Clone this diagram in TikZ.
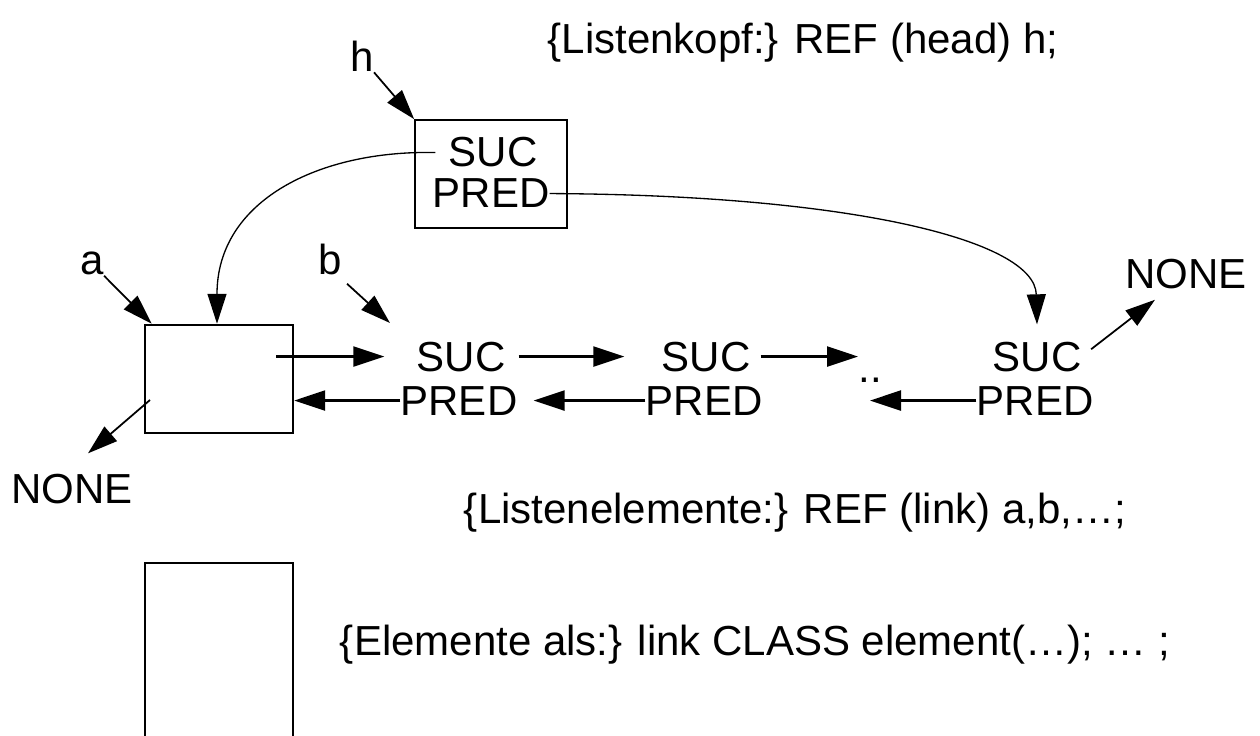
\documentclass[tikz,border=0pt]{standalone}
\usepackage{fontspec}
\setmainfont{Liberation Sans}
\usetikzlibrary{arrows.meta, calc, positioning}

\begin{document}
\begin{tikzpicture}[x=0.02cm, y=-0.02cm, inner sep=0pt, font=\fontsize{23.9}{28}\selectfont,
    word/.style={anchor=base},
    ptr/.style={-{Triangle[length=0.62cm, width=0.4cm]}, line width=1.4pt},
    thinptr/.style={-{Triangle[length=0.6cm, width=0.38cm]}, line width=1pt},
    curveptr/.style={-{Triangle[length=0.6cm, width=0.38cm]}, line width=0.75pt}]
    \useasboundingbox (0,0) rectangle (1260,736);
    % Listenkopf
    \node[word] (title-head) at (803,54) {\{Listenkopf:\} REF (head) h;};
    \node[draw, line width=1pt, minimum width=3.04cm, minimum height=2.16cm] (head) at (491,174) {};
    \node[word] (suc0) at (493,167) {SUC};
    \node[word] (pred0) at (491,208) {PRED};
    \node[word] (h) at (362,72) {h};
    \draw[thinptr] (h.south east) -- (head.north west);
    % Listenelemente
    \node[draw, line width=1.4pt, minimum width=2.96cm, minimum height=2.16cm] (lbox) at (219,379) {};
    \node[word] (a) at (92,275) {a};
    \node[word] (b) at (330,275) {b};
    \node[word] (suc1) at (461,371) {SUC};
    \node[word] (pred1) at (459,415) {PRED};
    \node[word] (suc2) at (706,371) {SUC};
    \node[word] (pred2) at (704,415) {PRED};
    \node[word] (dots) at (870,382) {..};
    \node[word] (suc3) at (1037,371) {SUC};
    \node[word] (pred3) at (1035,415) {PRED};
    \node[word] (none-l) at (72,503) {NONE};
    \node[word] (none-r) at (1186,289) {NONE};
    \coordinate (b-tip) at (390,323);
    \coordinate (lbox-out) at ($(lbox.east |- suc1.west)+(-18,0)$);
    \coordinate (lbox-none) at (150,400);
    \draw[thinptr] (a.south east) -- ([xshift=0.16cm]lbox.north west);
    \draw[thinptr] ([shift={(0.1cm,-0.16cm)}]b.south east) -- (b-tip);
    \draw[ptr, shorten >=0.64cm] (lbox-out) -- (suc1.west);
    \draw[ptr, shorten <=0.26cm, shorten >=0.74cm] (suc1.east) -- (suc2.west);
    \draw[ptr, shorten <=0.2cm] (suc2.east) -- (suc2.east -| dots.west);
    \draw[ptr] (pred1.west) -- (pred1.west -| lbox.east);
    \draw[ptr, shorten >=0.32cm] (pred2.west) -- (pred1.east);
    \draw[ptr] (pred3.west) -- (pred3.west -| dots);
    \draw[thinptr, shorten <=0.24cm] (suc3.east) -- ([shift={(0.6cm,-0.2cm)}]none-r.south west);
    \draw[thinptr] (lbox-none) -- ([shift={(0.32cm,0.4cm)}]none-l.north);
    % Kopf zeigt auf erstes und letztes Element
    \draw[curveptr] ([xshift=-0.26cm]suc0.west) .. controls (320,150) and (217,200) .. ([xshift=-0.04cm]lbox.north);
    \draw[curveptr] (pred0.east) .. controls (850,195) and (1035,240) .. ([yshift=0.34cm]suc3.north);
    \node[word] (title-link) at (795,523) {\{Listenelemente:\} REF (link) a,b,…;};
    % Elemente
    \node[draw, line width=1.4pt, minimum width=2.96cm, minimum height=3.8cm, anchor=north] (elem) at (219,562) {};
    \node[word] (title-elem) at (755,655) {\{Elemente als:\} link CLASS element(…); … ;};
\end{tikzpicture}
\end{document}
